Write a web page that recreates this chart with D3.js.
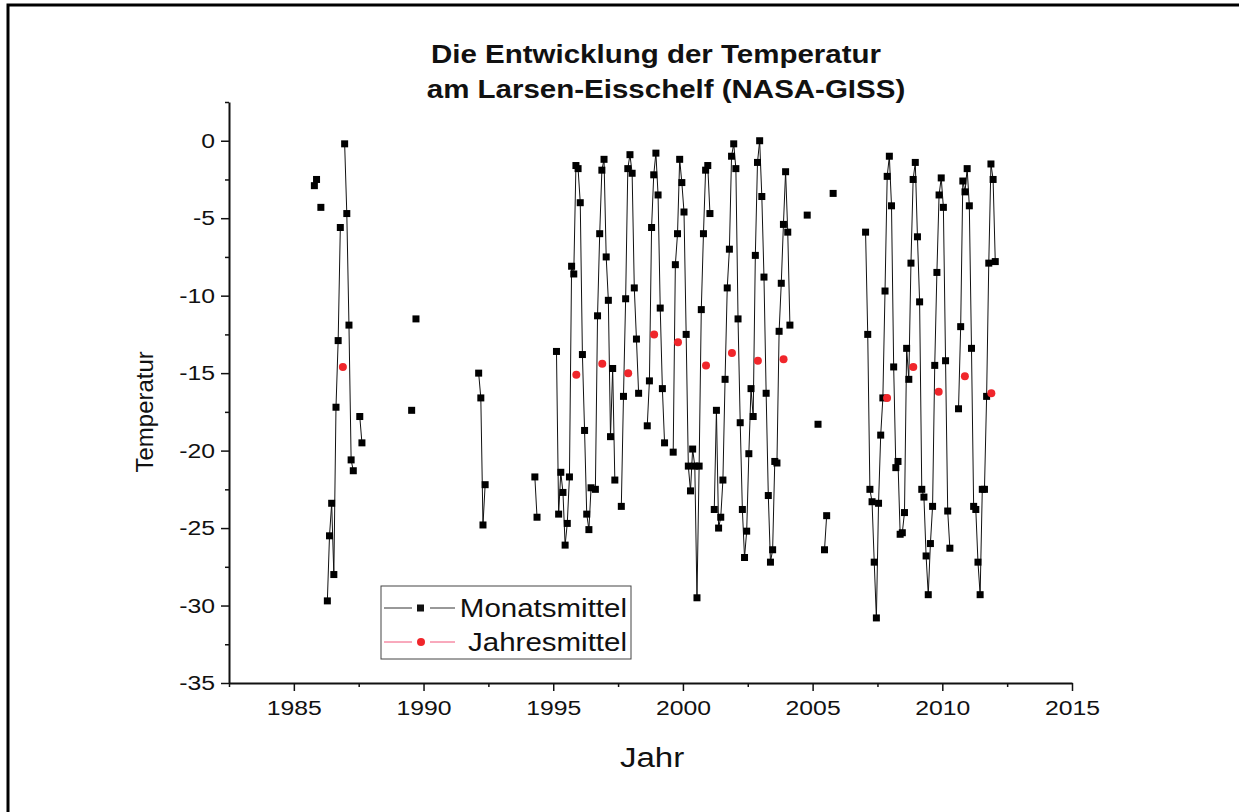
<!DOCTYPE html>
<html>
<head>
<meta charset="utf-8">
<script src="https://cdn.jsdelivr.net/npm/d3@7"></script>
<style>
  body { margin: 0; background: #fff; }
  text { font-family: "Liberation Sans", Arial, sans-serif; fill: #111; }
</style>
</head>
<body>
<div id="chart"></div>
<script>
// Monthly means (Jan..Dec), null = no value
const monthYears = [1985, 1986, 1987, 1989, 1992, 1994, 1995, 1996, 1997, 1998, 1999, 2000,
                    2001, 2002, 2003, 2004, 2005, 2007, 2008, 2009, 2010, 2011, 2012];
const monthTemp = [
  [null, null, null, null, null, null, null, null, null, -2.9, -2.5, null],
  [-4.3, null, null, -29.7, -25.5, -23.4, -28.0, -17.2, -12.9, -5.6, null, -0.2],
  [-4.7, -11.9, -20.6, -21.3, null, null, -17.8, -19.5, null, null, null, null],
  [null, null, null, null, null, null, -17.4, null, -11.5, null, null, null],
  [null, -15.0, -16.6, -24.8, -22.2, null, null, null, null, null, null, null],
  [null, null, null, -21.7, -24.3, null, null, null, null, null, null, null],
  [null, -13.6, -24.1, -21.4, -22.7, -26.1, -24.7, -21.7, -8.1, -8.6, -1.6, -1.8],
  [-4.0, -13.8, -18.7, -24.1, -25.1, -22.4, null, -22.5, -11.3, -6.0, -1.9, -1.2],
  [-7.5, -10.3, -19.1, -14.7, -21.9, null, null, -23.6, -16.5, -10.2, -1.8, -0.9],
  [-2.1, -9.5, -12.8, -16.3, null, null, null, -18.4, -15.5, -5.6, -2.2, -0.8],
  [-3.5, -10.8, -16.0, -19.5, null, null, null, -20.1, -8.0, -6.0, -1.2, -2.7],
  [-4.6, -12.5, -21.0, -22.6, -19.9, -21.0, -29.5, -21.0, -10.9, -6.0, -1.9, -1.6],
  [-4.7, null, -23.8, -17.4, -25.0, -24.3, -21.9, -15.4, -9.5, -7.0, -1.0, -0.2],
  [-1.8, -11.5, -18.2, -23.8, -26.9, -25.2, -20.2, -16.0, -17.8, -7.4, -1.4, 0.0],
  [-3.6, -8.8, -16.3, -22.9, -27.2, -26.4, -20.7, -20.8, -12.3, -9.2, -5.4, -2.0],
  [-5.9, -11.9, null, null, null, null, null, null, null, -4.8, null, null],
  [null, null, -18.3, null, null, -26.4, -24.2, null, null, -3.4, null, null],
  [-5.9, -12.5, -22.5, -23.3, -27.2, -30.8, -23.4, -19.0, -16.6, -9.7, -2.3, -1.0],
  [-4.2, -14.6, -21.1, -20.7, -25.4, -25.3, -24.0, -13.4, -15.4, -7.9, -2.5, -1.4],
  [-6.2, -10.4, -22.5, -23.0, -26.8, -29.3, -26.0, -23.6, -14.5, -8.5, -3.5, -2.4],
  [-4.3, -14.2, -23.9, -26.3, null, null, null, -17.3, -12.0, -2.6, -3.3, -1.8],
  [-4.2, -13.4, -23.6, -23.8, -27.2, -29.3, -22.5, -22.5, -16.5, -7.9, -1.5, -2.5],
  [-7.8, null, null, null, null, null, null, null, null, null, null, null]
];

// Annual means (position in decimal years as plotted)
const annualX = [1986.89, 1995.89, 1996.89, 1997.89, 1998.89, 1999.81, 2000.89, 2001.89,
                 2002.89, 2003.88, 2007.87, 2008.88, 2009.86, 2010.87, 2011.89];
const annualTemp = [-14.6, -15.1, -14.4, -15.0, -12.5, -13.0, -14.5, -13.7,
                    -14.2, -14.1, -16.6, -14.6, -16.2, -15.2, -16.3];

const xMajor = [1985, 1990, 1995, 2000, 2005, 2010, 2015];
const xMinor = [1982.5, 1987.5, 1992.5, 1997.5, 2002.5, 2007.5, 2012.5];
const yMajor = [-35, -30, -25, -20, -15, -10, -5, 0];
const yMinor = [-32.5, -27.5, -22.5, -17.5, -12.5, -7.5, -2.5, 2.5];

const titleLines = ["Die Entwicklung der Temperatur", "am Larsen-Eisschelf (NASA-GISS)"];
const legendLabels = ["Monatsmittel", "Jahresmittel"];

const width = 1239, height = 812;
// the original picture is a bit wider than tall, text is stretched sideways
const stretch = 1.18;

const svg = d3.select("#chart").append("svg")
    .attr("width", width)
    .attr("height", height);

svg.append("rect").attr("width", width).attr("height", height).attr("fill", "#fff");

// frame at the top and left edge
svg.append("path")
    .attr("d", `M8,${height} L8,5 L${width},5`)
    .attr("fill", "none")
    .attr("stroke", "#000")
    .attr("stroke-width", 3);

const x = d3.scaleLinear().domain([1982.5, 2015]).range([229, 1072]);
const y = d3.scaleLinear().domain([-35, 2.5]).range([683, 102]);

// build continuous monthly series 1985..2012, gaps as null
const series = [];
for (let yr = 1985; yr <= 2012; yr++) {
    const row = monthTemp[monthYears.indexOf(yr)];
    for (let m = 0; m < 12; m++) {
        series.push({ t: yr + (m + 0.5) / 12, v: row ? row[m] : null });
    }
}

// stretched text helper
function putText(g, px, py, str, size, anchor, sx) {
    return g.append("text")
        .attr("transform", `translate(${px},${py}) scale(${sx},1)`)
        .attr("text-anchor", anchor)
        .attr("font-size", size)
        .text(str);
}

// axes
const fmt = d => String(d);
const xAxis = svg.append("g").attr("transform", `translate(0,${y(-35)})`)
    .call(d3.axisBottom(x).tickValues(xMajor).tickFormat(fmt).tickSize(8).tickSizeOuter(0));
svg.append("g").attr("transform", `translate(0,${y(-35)})`)
    .call(d3.axisBottom(x).tickValues(xMinor).tickFormat("").tickSize(4).tickSizeOuter(0))
    .select(".domain").remove();

const yAxis = svg.append("g").attr("transform", `translate(${x(1982.5)},0)`)
    .call(d3.axisLeft(y).tickValues(yMajor).tickFormat(fmt).tickSize(8).tickSizeOuter(0));
svg.append("g").attr("transform", `translate(${x(1982.5)},0)`)
    .call(d3.axisLeft(y).tickValues(yMinor).tickFormat("").tickSize(4).tickSizeOuter(0))
    .select(".domain").remove();

svg.selectAll(".domain").attr("stroke", "#111").attr("stroke-width", 2);
svg.selectAll(".tick line").attr("stroke", "#111").attr("stroke-width", 1.5);
xAxis.selectAll(".tick text")
    .attr("font-size", 21).attr("fill", "#111")
    .attr("y", 0).attr("dy", 0)
    .attr("transform", `translate(0,32) scale(${stretch},1)`);
yAxis.selectAll(".tick text")
    .attr("font-size", 21).attr("fill", "#111")
    .attr("x", 0)
    .attr("transform", `translate(-14,0) scale(${stretch},1)`);

// monthly line + markers
const line = d3.line()
    .defined(d => d.v !== null)
    .x(d => x(d.t))
    .y(d => y(d.v));

svg.append("path")
    .datum(series)
    .attr("d", line)
    .attr("fill", "none")
    .attr("stroke", "#111")
    .attr("stroke-width", 1);

svg.selectAll("rect.month")
    .data(series.filter(d => d.v !== null))
    .enter()
    .append("rect")
    .attr("class", "month")
    .attr("x", d => x(d.t) - 3.5)
    .attr("y", d => y(d.v) - 3.5)
    .attr("width", 7)
    .attr("height", 7)
    .attr("fill", "#000");

// annual means
svg.selectAll("circle.year")
    .data(annualX.map((t, i) => ({ t: t, v: annualTemp[i] })))
    .enter()
    .append("circle")
    .attr("class", "year")
    .attr("cx", d => x(d.t))
    .attr("cy", d => y(d.v))
    .attr("r", 4)
    .attr("fill", "#f0262b");

// title
putText(svg, 656, 63, titleLines[0], 25, "middle", stretch).attr("font-weight", "bold");
putText(svg, 666, 98, titleLines[1], 25, "middle", stretch).attr("font-weight", "bold");

// axis titles
svg.append("text")
    .attr("transform", `translate(153,${y(-17.5)}) rotate(-90)`)
    .attr("text-anchor", "middle")
    .attr("font-size", 24)
    .text("Temperatur");
putText(svg, 652, 767, "Jahr", 28, "middle", stretch);

// legend
const legend = svg.append("g");
legend.append("rect")
    .attr("x", 381).attr("y", 586)
    .attr("width", 250).attr("height", 73)
    .attr("fill", "#fff")
    .attr("stroke", "#444")
    .attr("stroke-width", 1);

const legendColors = ["#111", "#f0262b"];
const legendLineColors = ["#333", "#f2557a"];
legendLabels.forEach((lab, i) => {
    const cy = 608 + i * 34;
    legend.append("line").attr("x1", 384).attr("x2", 412).attr("y1", cy).attr("y2", cy)
        .attr("stroke", legendLineColors[i]).attr("stroke-width", 1);
    legend.append("line").attr("x1", 430).attr("x2", 455).attr("y1", cy).attr("y2", cy)
        .attr("stroke", legendLineColors[i]).attr("stroke-width", 1);
    if (i === 0) {
        legend.append("rect").attr("x", 417).attr("y", cy - 3.5).attr("width", 7).attr("height", 7)
            .attr("fill", legendColors[i]);
    } else {
        legend.append("circle").attr("cx", 421).attr("cy", cy).attr("r", 4)
            .attr("fill", legendColors[i]);
    }
    putText(legend, 627, cy + 9, lab, 25, "end", stretch);
});
</script>
</body>
</html>
